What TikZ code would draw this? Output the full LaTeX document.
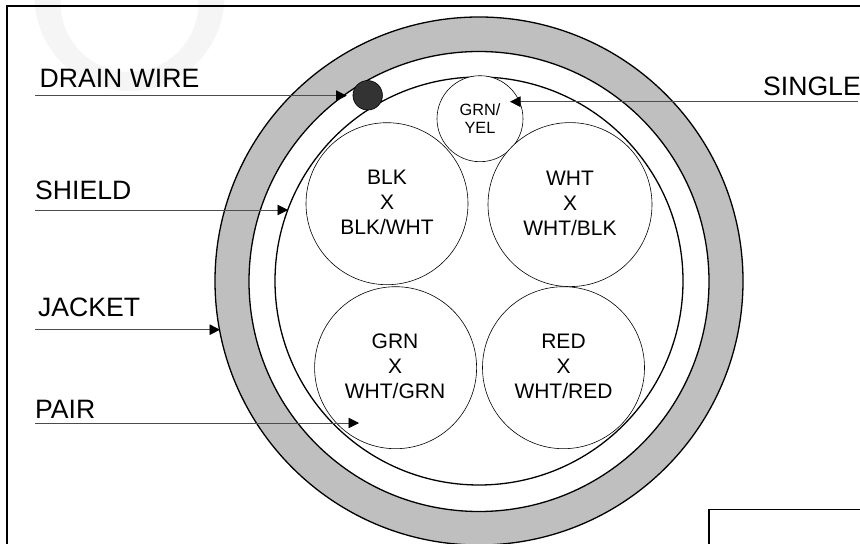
\documentclass[tikz,border=0pt]{standalone}
\usepackage{fontspec}
\setmainfont{Liberation Sans}
\usetikzlibrary{arrows.meta}
\tikzset{
 x=1bp,y=-1bp,
 frameline/.style={draw=black,line width=1.8bp},
 pair/.style={draw=black,fill=white,line width=0.6bp},
 leader/.style={draw=black!70,line width=0.9bp,-{Triangle[length=10.5bp,width=10.5bp,color=black,fill=black]}},
 bigtext/.style={font=\fontsize{26.6bp}{26.6bp}\selectfont,inner sep=0pt,anchor=base west,text=black},
 pairtext/.style={font=\fontsize{21bp}{25bp}\selectfont,inner sep=0pt,align=center,text=black},
 smalltext/.style={font=\fontsize{16.3bp}{18bp}\selectfont,inner sep=0pt,align=center,text=black},
}
\begin{document}
\begin{tikzpicture}
\useasboundingbox (0,0) rectangle (860,544);
\clip (0,0) rectangle (860,544);
\fill[white] (0,0) rectangle (860,544);
% watermark
\fill[black!4,even odd rule] (129.5,-4) circle (95) (129.5,3) circle (69);
% frame
\path[frameline] (7,544) -- (7,6) -- (860,6);
\path[frameline] (709,544) -- (709,509.5) -- (860,509.5);
% cable
\node[circle,draw=black,line width=1.3bp,fill=black!25,minimum size=528bp,inner sep=0pt] (jacket) at (479,281) {};
\node[circle,draw=black,line width=1.3bp,fill=white,minimum size=460bp,inner sep=0pt] (jacketin) at (479,281.5) {};
\node[circle,draw=black,line width=1.3bp,fill=white,minimum size=408bp,inner sep=0pt] (shield) at (479,281) {};
\node[circle,draw=black,fill=black!80,line width=0.6bp,minimum size=29.5bp,inner sep=0pt] (drain) at (367.7,95.3) {};
\node[circle,pair,minimum size=86bp,inner sep=0pt] (single) at (480,118.7) {};
\node[circle,pair,minimum size=162bp,inner sep=0pt] (blk) at (387,203.7) {};
\node[circle,pair,minimum size=164bp,inner sep=0pt] (wht) at (570,204.6) {};
\node[circle,pair,minimum size=162bp,inner sep=0pt] (grn) at (395.6,367.7) {};
\node[circle,pair,minimum size=162bp,inner sep=0pt] (red) at (563.5,367.7) {};
\node[smalltext] (singletext) at (480,119) {GRN/\\YEL};
\node[pairtext] (blktext) at (387,202.5) {BLK\\X\\BLK/WHT};
\node[pairtext] (whttext) at (570,203) {WHT\\X\\WHT/BLK};
\node[pairtext] (grntext) at (395,366) {GRN\\X\\WHT/GRN};
\node[pairtext] (redtext) at (563.5,366) {RED\\X\\WHT/RED};
% labels
\node[bigtext] (drainl) at (39.5,87.3) {DRAIN WIRE};
\node[bigtext] (shieldl) at (35,200) {SHIELD};
\node[bigtext] (jacketl) at (38,317) {JACKET};
\node[bigtext] (pairl) at (35,418.7) {PAIR};
\node[bigtext] (singlel) at (763,96) {SINGLE};
% leaders
\coordinate (d0) at (35,95.7);
\coordinate (d1) at (346.7,95.7);
\coordinate (s0) at (35,210);
\coordinate (s1) at (288,210);
\coordinate (j0) at (35,329.7);
\coordinate (j1) at (220,329.7);
\coordinate (p0) at (35,423);
\coordinate (p1) at (359,423);
\coordinate (g0) at (858,101.7);
\coordinate (g1) at (510,101.7);
\draw[leader] (d0) -- (d1);
\draw[leader] (s0) -- (s1);
\draw[leader] (j0) -- (j1);
\draw[leader] (p0) -- (p1);
\draw[leader] (g0) -- (g1);
\end{tikzpicture}
\end{document}
